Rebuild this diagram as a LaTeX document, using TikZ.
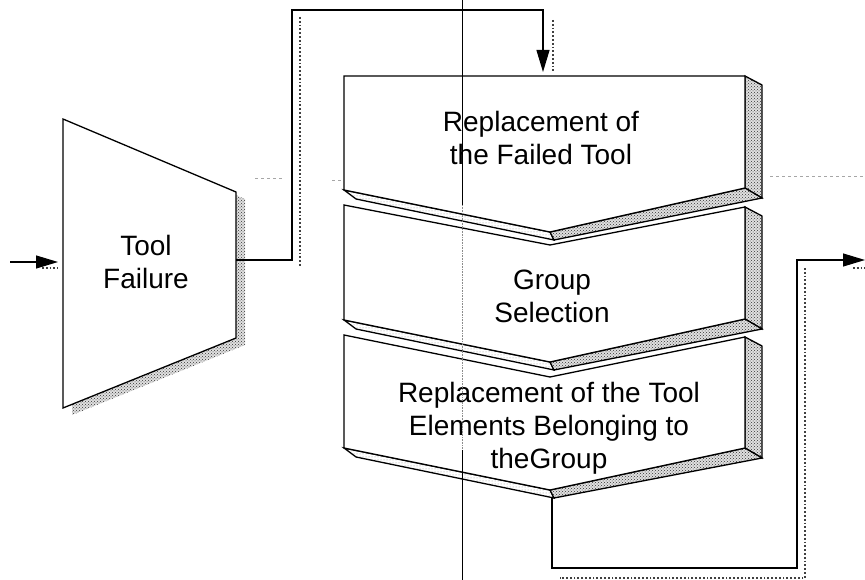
\documentclass[tikz,border=0pt]{standalone}
\usepackage{fontspec}
\setmainfont{Liberation Sans}
\usetikzlibrary{arrows.meta,patterns}

\tikzset{
  outline/.style={draw=black, line width=1.3pt, line join=miter},
  face/.style={outline, fill=white},
  darkside/.style={outline, preaction={fill=black!12}, pattern=crosshatch dots, pattern color=black!80},
  lightside/.style={outline, preaction={fill=white}, pattern=dots, pattern color=black!40},
  link/.style={draw=black, line width=1.1pt},
  tipped/.style={-{Triangle[length=22pt,width=13pt]}},
  linkshadow/.style={draw=black!75, line width=1.8pt, dotted},
  label/.style={align=center, font=\fontsize{28}{33}\selectfont, inner sep=0pt},
  crossline/.style={draw=black, line width=0.6pt},
  faintline/.style={draw=black!45, line width=0.6pt, densely dotted},
  scanline/.style={draw=black!35, line width=0.7pt, dashed}
}

% extruded chevron: name, top-left y, top-mid y, top-right y,
% bottom-left y, bottom-mid y, bottom-right y
\newcommand{\chevbox}[7]{%
  \path[darkside] (745,#4) -- (762,#4+9) -- (762,#7+10) -- (745,#7) -- cycle;
  \path[lightside] (344,#5) -- (550,#6) -- (554,#6+8) -- (356,#5+9) -- cycle;
  \path[darkside] (550,#6) -- (745,#7) -- (762,#7+10) -- (554,#6+8) -- cycle;
  \path[face] (344,#2) -- (550,#3) -- (745,#4) -- (745,#7) -- (550,#6) -- (344,#5) -- cycle;
  \coordinate (#1-out) at (552,#6+8);
}

\begin{document}
\begin{tikzpicture}[x=1pt,y=-1pt]
\useasboundingbox (0,0) rectangle (865,580);

% faint horizontal rule
\path[scanline] (72,178) -- (178,178);
\path[scanline] (255,178) -- (282,178);
\path[scanline] (332,180) -- (380,180);
\path[scanline] (560,178) -- (662,178);
\path[scanline] (770,176) -- (865,176);

% connector shadows
\path[linkshadow] (300,17) -- (300,266);
\path[linkshadow] (553,20) -- (553,72);
\path[linkshadow] (42,268) -- (58,268);
\path[linkshadow] (805,268) -- (805,578) -- (560,578);
\path[linkshadow] (853,268) -- (865,268);

% Tool Failure trapezoid
\path[preaction={fill=black!12}, pattern=crosshatch dots, pattern color=black!80] (72,126) -- (245,199) -- (245,345) -- (72,415) -- cycle;
\path[face] (63,119) -- (236,192) -- (236,338) -- (63,408) -- cycle;
\node[label] (fail) at (146,262) {Tool\\Failure};
\coordinate (fail-in) at (63,262);
\coordinate (fail-out) at (236,260);
\coordinate (src) at (10,262);

% stacked chevron steps
\chevbox{s1}{76}{76}{76}{190}{232}{188}
\chevbox{s2}{205}{245}{207}{320}{362}{319}
\chevbox{s3}{335}{377}{337}{448}{490}{448}
\coordinate (s1-in) at (543,76);

\node[label] (t1) at (541,138) {Replacement of\\the Failed Tool};
\node[label] (t2) at (552,296) {Group\\Selection};
\node[label] (t3) at (549,428) {Replacement of the Tool\\Elements Belonging to\\theGroup};

% vertical rule
\path[crossline] (462,0) -- (462,205);
\path[faintline] (462,205) -- (462,450);
\path[crossline] (462,450) -- (462,580);

% connectors
\coordinate (sink) at (865,260);
\draw[link, tipped, shorten >=5pt] (src) -- (fail-in);
\draw[link, tipped, shorten >=4pt] (fail-out) -| (292,10) -| (s1-in);
\draw[link, tipped] (s3-out) |- (797,568) |- (sink);
\end{tikzpicture}
\end{document}
